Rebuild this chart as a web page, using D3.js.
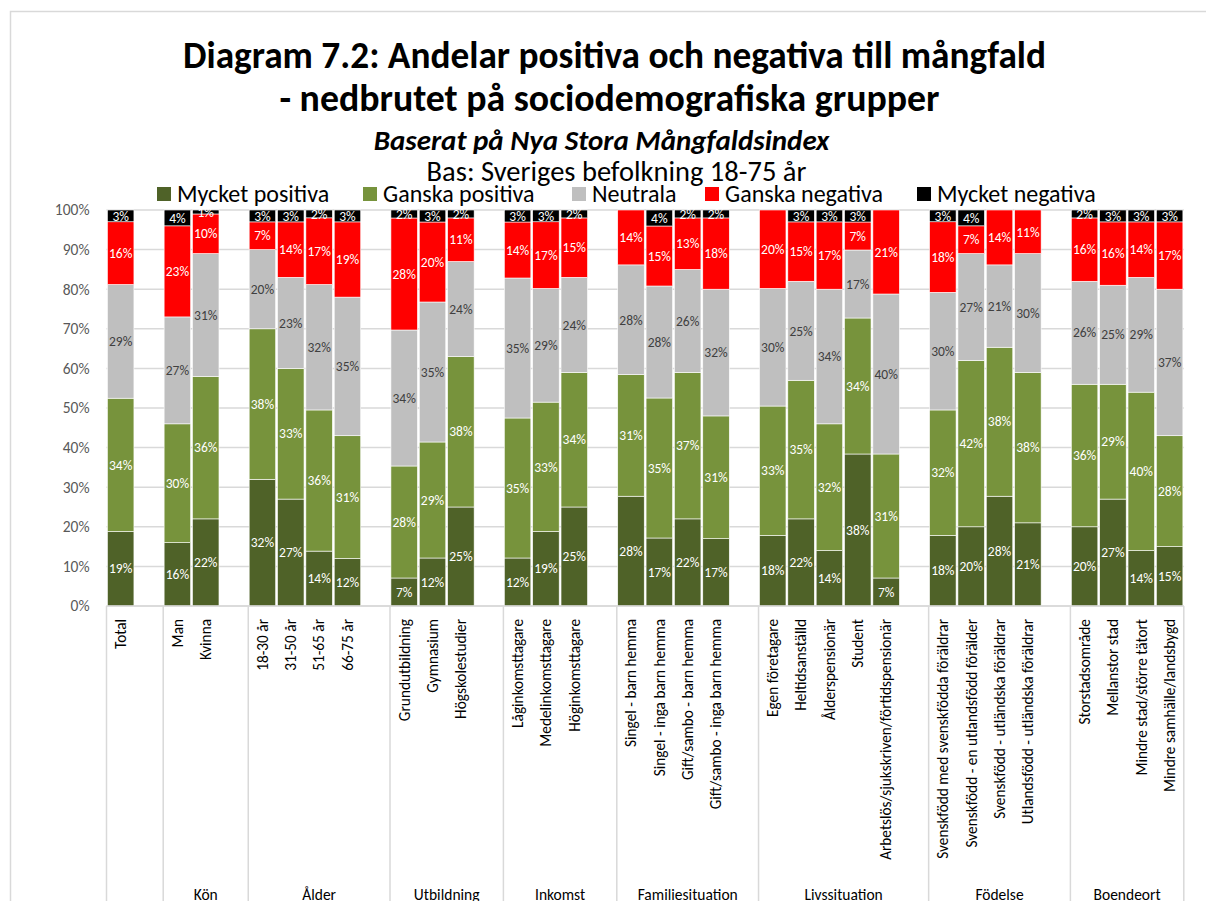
<!DOCTYPE html>
<html>
<head>
<meta charset="utf-8">
<script src="https://cdn.jsdelivr.net/npm/d3@7"></script>
<style>
  body { margin: 0; background: #fff; }
  svg { display: block; font-family: Carlito, Lato, "Liberation Sans", sans-serif; }
</style>
</head>
<body>
<svg id="chart" width="1206" height="901"></svg>
<script>
// series, bottom to top
var keys = ["Mycket positiva", "Ganska positiva", "Neutrala", "Ganska negativa", "Mycket negativa"];
var colors = ["#4F6228", "#77933C", "#BFBFBF", "#FF0000", "#000000"];
var labelColors = ["#fff", "#fff", "#404040", "#fff", "#fff"];

var groupNames = ["", "Kön", "Ålder", "Utbildning", "Inkomst", "Familiesituation", "Livssituation", "Födelse", "Boendeort"];
var groupCats = [
  ["Total"],
  ["Man", "Kvinna"],
  ["18-30 år", "31-50 år", "51-65 år", "66-75 år"],
  ["Grundutbildning", "Gymnasium", "Högskolestudier"],
  ["Låginkomsttagare", "Medelinkomsttagare", "Höginkomsttagare"],
  ["Singel - barn hemma", "Singel - inga barn hemma", "Gift/sambo - barn hemma", "Gift/sambo - inga barn hemma"],
  ["Egen företagare", "Heltidsanställd", "Ålderspensionär", "Student", "Arbetslös/sjukskriven/förtidspensionär"],
  ["Svenskfödd med svenskfödda föräldrar", "Svenskfödd - en utlandsfödd förälder", "Svenskfödd - utländska föräldrar", "Utlandsfödd - utländska föräldrar"],
  ["Storstadsområde", "Mellanstor stad", "Mindre stad/större tätort", "Mindre samhälle/landsbygd"]
];

// percentages per category, same order as the flattened categories
var mycketPositiva = [19, 16, 22, 32, 27, 14, 12, 7, 12, 25, 12, 19, 25, 28, 17, 22, 17, 18, 22, 14, 38, 7, 18, 20, 28, 21, 20, 27, 14, 15];
var ganskaPositiva = [34, 30, 36, 38, 33, 36, 31, 28, 29, 38, 35, 33, 34, 31, 35, 37, 31, 33, 35, 32, 34, 31, 32, 42, 38, 38, 36, 29, 40, 28];
var neutrala       = [29, 27, 31, 20, 23, 32, 35, 34, 35, 24, 35, 29, 24, 28, 28, 26, 32, 30, 25, 34, 17, 40, 30, 27, 21, 30, 26, 25, 29, 37];
var ganskaNegativa = [16, 23, 10, 7, 14, 17, 19, 28, 20, 11, 14, 17, 15, 14, 15, 13, 18, 20, 15, 17, 7, 21, 18, 7, 14, 11, 16, 16, 14, 17];
var mycketNegativa = [3, 4, 1, 3, 3, 2, 3, 2, 3, 2, 3, 3, 2, 0, 4, 2, 2, 0, 3, 3, 3, 0, 3, 4, 0, 0, 2, 3, 3, 3];
var yTicks = [0, 0.1, 0.2, 0.3, 0.4, 0.5, 0.6, 0.7, 0.8, 0.9, 1];

var svg = d3.select("#chart");
var W = 1206, H = 901;
var margin = {top: 210, left: 106.5, right: 1183.8, bottom: 606};

// build slots: categories plus one empty slot after each group (not after the last)
var slots = [], rows = [], groupSpans = [];
var ci = 0;
groupCats.forEach(function(cats, gi) {
  var start = slots.length;
  cats.forEach(function(c) {
    slots.push("c" + ci);
    rows.push({slot: "c" + ci, name: c, i: ci,
      "Mycket positiva": mycketPositiva[ci], "Ganska positiva": ganskaPositiva[ci],
      "Neutrala": neutrala[ci], "Ganska negativa": ganskaNegativa[ci], "Mycket negativa": mycketNegativa[ci]});
    ci++;
  });
  if (gi < groupCats.length - 1) slots.push("blank" + gi);
  groupSpans.push({name: groupNames[gi], first: slots[start], last: slots[slots.length - 1]});
});

var x = d3.scaleBand().domain(slots).range([margin.left, margin.right]).padding(0);
var barW = x.bandwidth() * 0.935;
var y = d3.scaleLinear().domain([0, 1]).range([margin.bottom, margin.top]);
var color = d3.scaleOrdinal().domain(keys).range(colors);

// outer frame
svg.append("rect").attr("x", 10.5).attr("y", 11.5).attr("width", W).attr("height", H)
  .attr("fill", "none").attr("stroke", "#D9D9D9").attr("stroke-width", 1.5);

// titles
svg.append("text").attr("x", 614.5).attr("y", 68).attr("text-anchor", "middle")
  .attr("font-size", 37.3).attr("font-weight", "bold").attr("fill", "#000")
  .text("Diagram 7.2: Andelar positiva och negativa till mångfald");
svg.append("text").attr("x", 609.5).attr("y", 111).attr("text-anchor", "middle")
  .attr("font-size", 37.8).attr("font-weight", "bold").attr("fill", "#000")
  .text("- nedbrutet på sociodemografiska grupper");
svg.append("text").attr("x", 601.5).attr("y", 150).attr("text-anchor", "middle")
  .attr("font-size", 29).attr("font-weight", "bold").attr("font-style", "italic")
  .text("Baserat på Nya Stora Mångfaldsindex");
svg.append("text").attr("x", 616.5).attr("y", 181).attr("text-anchor", "middle")
  .attr("font-size", 28.5).text("Bas: Sveriges befolkning 18-75 år");

// legend
var legendX = [157, 363, 572, 705, 917];
var legend = svg.selectAll(".legend").data(keys).enter().append("g")
  .attr("class", "legend")
  .attr("transform", function(d, i) { return "translate(" + legendX[i] + ",187)"; });
legend.append("rect").attr("width", 14).attr("height", 14).attr("fill", color);
legend.append("text").attr("x", 20).attr("y", 7).attr("dy", "0.35em")
  .attr("font-size", 24).attr("fill", "#000").text(function(d) { return d; });

// gridlines
svg.append("g").selectAll("line").data(yTicks).enter().append("line")
  .attr("x1", margin.left).attr("x2", margin.right)
  .attr("y1", function(d) { return y(d); }).attr("y2", function(d) { return y(d); })
  .attr("stroke", "#D9D9D9").attr("stroke-width", 1.5);

// y axis
var yAxis = svg.append("g").attr("transform", "translate(" + (margin.left - 14) + ",0)")
  .call(d3.axisLeft(y).tickValues(yTicks).tickFormat(d3.format(".0%")).tickSize(0));
yAxis.select(".domain").remove();
yAxis.selectAll("text").attr("font-size", 15.5).attr("fill", "#595959")
  .attr("font-family", "Carlito, Lato, sans-serif");

// stacked bars (100% stacked)
var series = d3.stack().keys(keys).offset(d3.stackOffsetExpand)(rows);

var layer = svg.selectAll("g.layer").data(series).enter().append("g")
  .attr("class", "layer").attr("fill", function(d) { return color(d.key); });

layer.selectAll("rect").data(function(d) { return d; }).enter().append("rect")
  .attr("x", function(d) { return x(d.data.slot) + (x.bandwidth() - barW) / 2; })
  .attr("width", barW)
  .attr("y", function(d) { return y(d[1]); })
  .attr("height", function(d) { return y(d[0]) - y(d[1]); })
  .attr("stroke", "#fff").attr("stroke-width", 0.6);

// value labels
series.forEach(function(s, si) {
  svg.append("g").selectAll("text")
    .data(s.filter(function(d) { return d.data[s.key] > 0; }))
    .enter().append("text")
    .attr("x", function(d) { return x(d.data.slot) + x.bandwidth() / 2; })
    .attr("y", function(d) { return (y(d[0]) + y(d[1])) / 2; })
    .attr("dy", "0.35em").attr("text-anchor", "middle")
    .attr("font-size", 13.5).attr("fill", labelColors[si])
    .text(function(d) { return d.data[s.key] + "%"; });
});

// category axis line
svg.append("line").attr("x1", margin.left).attr("x2", margin.right)
  .attr("y1", margin.bottom).attr("y2", margin.bottom)
  .attr("stroke", "#D9D9D9").attr("stroke-width", 1.5);

// category labels (rotated)
svg.append("g").selectAll("text").data(rows).enter().append("text")
  .attr("transform", function(d) { return "translate(" + (x(d.slot) + x.bandwidth() / 2) + ",619) rotate(-90)"; })
  .attr("dy", "0.35em").attr("text-anchor", "end")
  .attr("font-size", 15.3).attr("fill", "#000")
  .text(function(d) { return d.name; });

// group dividers
var dividers = [margin.left].concat(groupSpans.slice(1).map(function(g) { return x(g.first); }), [margin.right]);
svg.append("g").selectAll("line").data(dividers).enter().append("line")
  .attr("x1", function(d) { return d; }).attr("x2", function(d) { return d; })
  .attr("y1", margin.bottom).attr("y2", H)
  .attr("stroke", "#D9D9D9").attr("stroke-width", 1.5);

// group labels
svg.append("g").selectAll("text").data(groupSpans.filter(function(g) { return g.name; })).enter().append("text")
  .attr("x", function(g) { return (x(g.first) + x(g.last) + x.bandwidth()) / 2; })
  .attr("y", 900).attr("text-anchor", "middle")
  .attr("font-size", 15.5).attr("fill", "#000")
  .text(function(g) { return g.name; });
</script>
</body>
</html>
